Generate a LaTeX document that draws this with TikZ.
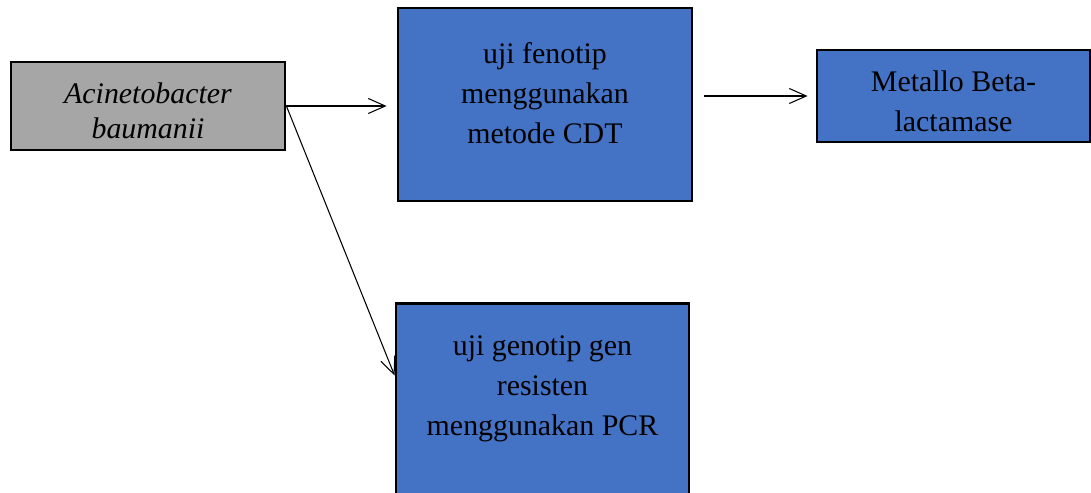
\documentclass[tikz,border=0pt]{standalone}
\usepackage{fontspec}
\setmainfont{Liberation Serif}
\usetikzlibrary{arrows.meta}
\definecolor{biru}{HTML}{4472C4}
\definecolor{abu}{HTML}{A6A6A6}

\begin{document}
\begin{tikzpicture}
%----------kotak---------
\tikzset{kotak/.style={
rectangle,
draw=black,
line width=1.6pt,
fill=biru
},
teks/.style={
align=center,
font=\fontsize{17}{22.8}\selectfont
},
panah/.style={
line width=0.6pt,
-{Straight Barb[length=0.34cm,width=0.3cm]}
}};

\useasboundingbox (0,0) rectangle (21.82,-9.84);
\clip (0,0) rectangle (21.82,-9.84);

%------------ kotak-kotak ---------------
\node [kotak,fill=abu,minimum width=5.48cm,minimum height=1.76cm] (bakteri) at (2.96,-2.12) {};
\node [kotak,minimum width=5.88cm,minimum height=3.86cm] (fenotip) at (10.9,-2.09) {};
\node [kotak,minimum width=5.46cm,minimum height=1.84cm] (mbl) at (19.07,-1.92) {};
\node [kotak,minimum width=5.86cm,minimum height=3.86cm] (pcr) at (10.85,-8.0) {};

% -----------teks----------------
\node [teks,font=\fontsize{17}{20}\selectfont\itshape] (tbakteri) at (2.96,-2.22) {Acinetobacter\\baumanii};
\node [teks] (tfenotip) at (10.9,-1.87) {uji fenotip\\menggunakan\\metode CDT};
\node [teks] (tmbl) at (19.07,-2.02) {Metallo Beta-\\lactamase};
\node [teks] (tpcr) at (10.85,-7.78) {uji genotip gen\\resisten\\menggunakan PCR};

% -----------panah----------------
\draw [panah,shorten >=0.2cm] (bakteri.east) -- (bakteri.east -| fenotip.west);
\draw [panah] (bakteri.east) -- ([yshift=0.49cm]pcr.west);
\draw [panah,shorten <=0.22cm,shorten >=0.16cm] (fenotip.east |- mbl.west) -- (mbl.west);
\end{tikzpicture}
\end{document}
